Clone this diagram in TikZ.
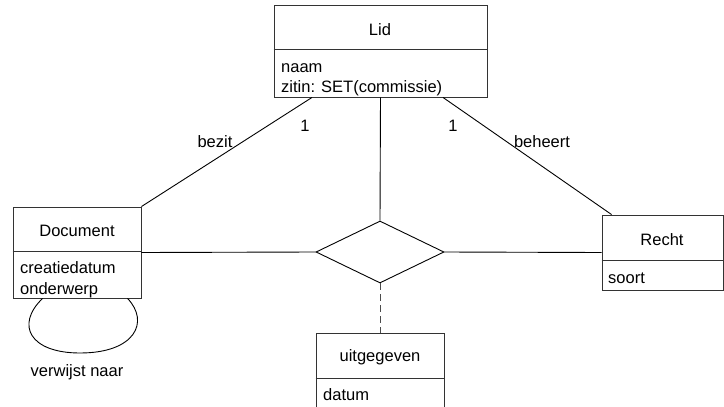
\documentclass[tikz,border=0pt]{standalone}
\usepackage{fontspec}
\setmainfont{Liberation Sans}
\usetikzlibrary{calc,shapes.geometric}
\begin{document}
\begin{tikzpicture}[x=1pt,y=-1pt,
  box/.style={draw=black!80, line width=0.9pt, rectangle, inner sep=0pt},
  rel/.style={draw=black, line width=0.9pt, diamond, inner sep=0pt, minimum width=128pt, minimum height=62pt, aspect=2},
  txt/.style={inner sep=0pt, font=\fontsize{16.5}{19}\selectfont},
  attr/.style={txt, anchor=base west},
  conn/.style={draw=black, line width=0.9pt},
  dconn/.style={draw=black!70, line width=0.9pt, dash pattern=on 7pt off 4pt}]
\useasboundingbox (0,0) rectangle (724,407);
% entities
\node[box, minimum width=213pt, minimum height=92pt] (lid) at (380.5,51) {};
\node[box, minimum width=128pt, minimum height=91pt] (doc) at (77,252.5) {};
\node[box, minimum width=121pt, minimum height=75pt] (recht) at (662.5,252.5) {};
\node[box, minimum width=128pt, minimum height=82pt] (uit) at (380,374) {};
\node[rel] (rel) at (380,252) {};
% separators
\draw[box] ($(lid.north west)+(0,45)$) -- ($(lid.north east)+(0,45)$);
\draw[box] ($(doc.north west)+(0,45)$) -- ($(doc.north east)+(0,45)$);
\draw[box] ($(recht.north west)+(0,46)$) -- ($(recht.north east)+(0,46)$);
\draw[box] ($(uit.north west)+(0,46)$) -- ($(uit.north east)+(0,46)$);
% titles and attributes
\node[txt] (lidt) at (380,30) {Lid};
\node[attr] (lida1) at (281,72) {naam};
\node[attr] (lida2) at (281,92) {zitin: SET(commissie)};
\node[txt] (doct) at (77,231) {Document};
\node[attr] (doca1) at (20,273) {creatiedatum};
\node[attr] (doca2) at (20,294) {onderwerp};
\node[txt] (rechtt) at (662,240) {Recht};
\node[attr] (rechta1) at (608,283) {soort};
\node[txt] (uitt) at (380,357) {uitgegeven};
\node[attr] (uita1) at (323,400) {datum};
% connectors
\draw[conn] (lid.south) -- (rel.north);
\draw[conn] (doc.east) -- (rel.west);
\draw[conn] (rel.east) -- (recht.west);
\draw[dconn] (rel.south) -- (uit.north);
\draw[conn] ([xshift=-68.5pt]lid.south) -- (doc.north east);
\draw[conn] ([xshift=62.5pt]lid.south) -- ([xshift=10pt]recht.north west);
\coordinate (loopbot) at (80,353);
\draw[conn] ([xshift=30pt]doc.south west) .. controls (15,325) and (30,353) .. (loopbot)
  .. controls (135,353) and (150,322) .. ([xshift=115pt]doc.south west);
% labels
\node[txt] (l1) at (305,126) {1};
\node[txt] (l2) at (453,126) {1};
\node[txt] (lbezit) at (215,142) {bezit};
\node[txt] (lbeheert) at (542,142) {beheert};
\node[txt] (lverw) at (77,372) {verwijst naar};
\end{tikzpicture}
\end{document}
